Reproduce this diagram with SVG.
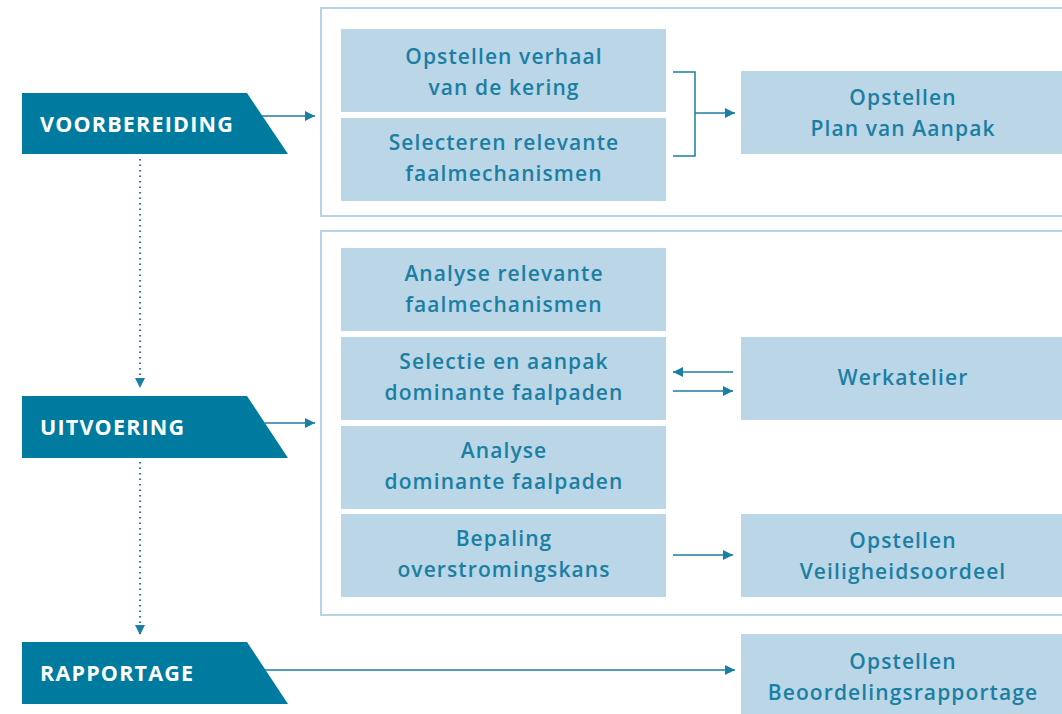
<svg xmlns="http://www.w3.org/2000/svg" width="1062" height="714" viewBox="0 0 1062 714">
<style>
.frame{fill:#fff;stroke:#b7d3e6;stroke-width:2}
.box{fill:#bad6e7}
.phase{fill:#007ba0}
.t{font-family:"Open Sans","Noto Sans",sans-serif;font-weight:600;font-size:21px;letter-spacing:1.1px;fill:#1a7fa3;text-anchor:middle}
.pt{font-family:"Open Sans","Noto Sans",sans-serif;font-weight:700;font-size:21.5px;letter-spacing:1.2px;fill:#fff}
.ln{stroke:#1a7fa3;stroke-width:1.5;fill:none}
.dot{stroke:#1a7fa3;stroke-width:2;fill:none;stroke-dasharray:1.5 4}
</style>
<defs>
<marker id="ah" viewBox="0 0 10 10" refX="10" refY="5" markerWidth="14" markerHeight="10" markerUnits="userSpaceOnUse" orient="auto"><path d="M0,0 L10,5 L0,10 z" fill="#1a7fa3"/></marker>
</defs>
<rect class="frame" x="321" y="8" width="750" height="208"/>
<rect class="frame" x="321" y="231" width="750" height="384"/>
<g id="voorbereiding"><path class="phase" d="M22,93 H247 L288,154 H22 Z"/><text class="pt" x="40" y="132">VOORBEREIDING</text></g>
<g id="uitvoering"><path class="phase" d="M22,396 H247 L288,458 H22 Z"/><text class="pt" x="40" y="435">UITVOERING</text></g>
<g id="rapportage"><path class="phase" d="M22,642 H247 L288,704 H22 Z"/><text class="pt" x="40" y="681">RAPPORTAGE</text></g>
<g id="n1"><rect class="box" x="341" y="29" width="325" height="83"/><text class="t" x="504" y="64">Opstellen verhaal</text><text class="t" x="504" y="95">van de kering</text></g>
<g id="n2"><rect class="box" x="341" y="118" width="325" height="83"/><text class="t" x="504" y="150">Selecteren relevante</text><text class="t" x="504" y="181">faalmechanismen</text></g>
<g id="n3"><rect class="box" x="741" y="71" width="330" height="83"/><text class="t" x="903" y="105">Opstellen</text><text class="t" x="903" y="136">Plan van Aanpak</text></g>
<g id="n4"><rect class="box" x="341" y="248" width="325" height="83"/><text class="t" x="504" y="281">Analyse relevante</text><text class="t" x="504" y="312">faalmechanismen</text></g>
<g id="n5"><rect class="box" x="341" y="337" width="325" height="83"/><text class="t" x="504" y="369">Selectie en aanpak</text><text class="t" x="504" y="400">dominante faalpaden</text></g>
<g id="n6"><rect class="box" x="741" y="337" width="330" height="83"/><text class="t" x="903" y="385">Werkatelier</text></g>
<g id="n7"><rect class="box" x="341" y="426" width="325" height="83"/><text class="t" x="504" y="458">Analyse</text><text class="t" x="504" y="489">dominante faalpaden</text></g>
<g id="n8"><rect class="box" x="341" y="514" width="325" height="83"/><text class="t" x="504" y="546">Bepaling</text><text class="t" x="504" y="577">overstromingskans</text></g>
<g id="n9"><rect class="box" x="741" y="514" width="330" height="83"/><text class="t" x="903" y="548">Opstellen</text><text class="t" x="903" y="579">Veiligheidsoordeel</text></g>
<g id="n10"><rect class="box" x="741" y="634" width="330" height="90"/><text class="t" x="903" y="669">Opstellen</text><text class="t" x="903" y="700">Beoordelingsrapportage</text></g>
<g id="connectors">
<line class="ln" x1="262" y1="116" x2="315" y2="116" marker-end="url(#ah)"/>
<line class="ln" x1="265" y1="423" x2="315" y2="423" marker-end="url(#ah)"/>
<line class="ln" x1="265" y1="670" x2="735" y2="670" marker-end="url(#ah)"/>
<path class="ln" d="M673,72 H695 V156 H673"/>
<line class="ln" x1="695" y1="113" x2="735" y2="113" marker-end="url(#ah)"/>
<line class="ln" x1="733" y1="372" x2="673" y2="372" marker-end="url(#ah)"/>
<line class="ln" x1="673" y1="391" x2="733" y2="391" marker-end="url(#ah)"/>
<line class="ln" x1="673" y1="555" x2="733" y2="555" marker-end="url(#ah)"/>
<line class="dot" x1="140" y1="159" x2="140" y2="388" marker-end="url(#ah)"/>
<line class="dot" x1="140" y1="462" x2="140" y2="635" marker-end="url(#ah)"/>
</g>
</svg>
